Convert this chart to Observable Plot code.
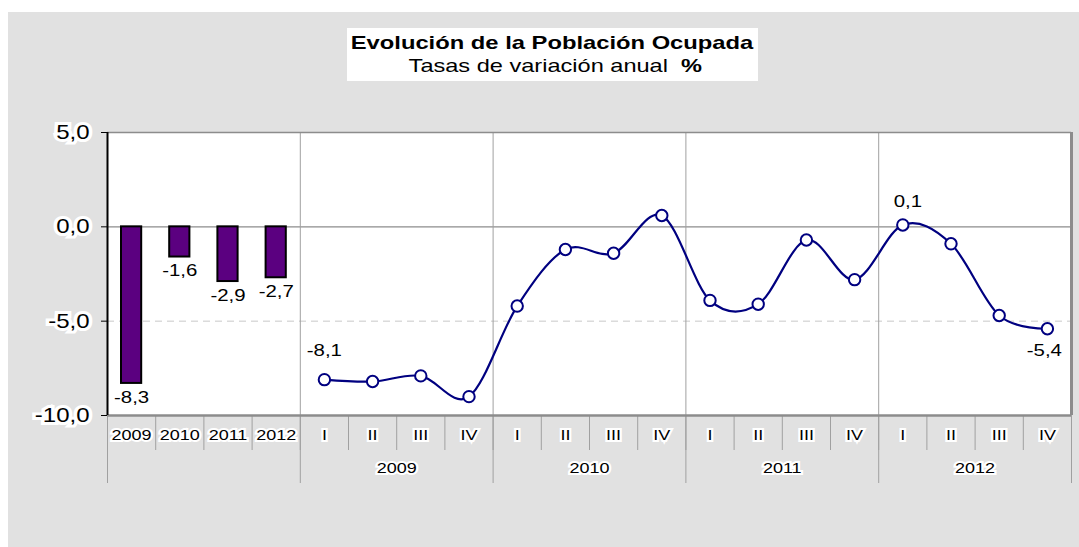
<!DOCTYPE html>
<html>
<head>
<meta charset="utf-8">
<script src="https://cdn.jsdelivr.net/npm/d3@7"></script>
<script src="https://cdn.jsdelivr.net/npm/@observablehq/plot@0.6"></script>
<style>
  html, body { margin: 0; padding: 0; background: #ffffff; overflow: hidden; }
  body { width: 1079px; height: 547px; position: relative; font-family: "Liberation Sans", Arial, sans-serif; }
  #bg { position: absolute; left: 8px; top: 12px; width: 1071px; height: 535px; background: #e1e1e1; }
  #titlebox { position: absolute; left: 347px; top: 28px; width: 411px; height: 53px; background: #ffffff; }
  #t1, #t2 { position: absolute; left: 0; width: 100%; text-align: center; white-space: nowrap; color: #000; }
  #t1 { top: 3px; height: 23px; line-height: 23px; font-size: 19px; font-weight: bold; }
  #t2 { top: 26px; height: 23px; line-height: 23px; font-size: 19px; }
  #t1 span { display: inline-block; transform: scaleX(1.25); }
  #t2 span { display: inline-block; transform: scaleX(1.24); margin-left: 5px; }
  #chart { position: absolute; left: 8px; top: 112px; }
</style>
</head>
<body>
<div id="bg"></div>
<div id="titlebox">
  <div id="t1"><span>Evolución de la Población Ocupada</span></div>
  <div id="t2"><span>Tasas de variación anual&nbsp; <b>%</b></span></div>
</div>
<div id="chart"></div>
<script>
// ---- data ----
const annualYears = ["2009", "2010", "2011", "2012"];
const annualValues = [-8.3, -1.6, -2.9, -2.7];
const quarterYears = ["2009", "2010", "2011", "2012"];
const quarterNames = ["I", "II", "III", "IV"];
const quarterlyValues = [-8.1, -8.2, -7.9, -9.0, -4.2, -1.2, -1.4, 0.6, -3.9, -4.1, -0.7, -2.8, 0.1, -0.9, -4.7, -5.4];
const yTicks = [5, 0, -5, -10];
const labeledQuarters = ["2009 I", "2012 I", "2012 IV"];

// ---- derived tables ----
const annual = annualYears.map((y, i) => ({key: "A" + y, label: y, value: annualValues[i]}));
const quarterly = quarterYears.flatMap((y, yi) =>
  quarterNames.map((q, qi) => ({key: y + " " + q, year: y, label: q, value: quarterlyValues[yi * 4 + qi]})));
const all = [...annual, ...quarterly];
const keys = all.map(d => d.key);
const fmt = v => v.toFixed(1).replace(".", ",");

const half = 964 / keys.length / 2; // half a band, in px
const groupStarts = [annual[0].key, ...quarterYears.map(y => y + " I")];
const innerGroupStarts = quarterYears.map(y => y + " I");
const lastKey = keys[keys.length - 1];
const halo = {stroke: "white", strokeWidth: 6, paintOrder: "stroke", strokeLinejoin: "miter"};
const labelOffsets = {"2009 I": [0, -29], "2012 I": [5, -23], "2012 IV": [-3, 22]};

const chart = Plot.plot({
  width: 1071,
  height: 400,
  marginLeft: 99,
  marginRight: 8,
  marginTop: 20,
  marginBottom: 97,
  style: {background: "transparent", fontFamily: "'Liberation Sans', Arial, sans-serif", color: "black"},
  x: {domain: keys, padding: 0, round: false, axis: null},
  y: {domain: [-10, 5], axis: null},
  marks: [
    Plot.frame({fill: "white", stroke: "none"}),
    // horizontal grid
    Plot.ruleY([-5], {stroke: "#c8c8c8", strokeWidth: 1, strokeDasharray: "7,5"}),
    Plot.ruleY([0], {stroke: "#8c8c8c", strokeWidth: 1.2}),
    // vertical group separators in plot
    Plot.ruleX(innerGroupStarts, {x: d => d, dx: -half, stroke: "#a0a0a0", strokeWidth: 1}),
    // separators below axis
    Plot.ruleX(keys, {x: d => d, dx: -half, insetTop: 283, insetBottom: -35, stroke: "#a0a0a0", strokeWidth: 1}),
    Plot.ruleX(groupStarts, {x: d => d, dx: -half, insetTop: 283, insetBottom: -68, stroke: "#a0a0a0", strokeWidth: 1}),
    Plot.ruleX([lastKey], {x: d => d, dx: half, insetTop: 283, insetBottom: -68, stroke: "#a0a0a0", strokeWidth: 1}),
    // bars
    Plot.barY(annual, {x: "key", y: "value", fill: "#5b0080", stroke: "black", strokeWidth: 2, insetLeft: 14, insetRight: 14}),
    // line + points
    Plot.line(quarterly, {x: "key", y: "value", curve: "cardinal", stroke: "#000080", strokeWidth: 2.2}),
    Plot.dot(quarterly, {x: "key", y: "value", r: 5.7, fill: "white", stroke: "#000080", strokeWidth: 2}),
    // data labels
    Plot.text(annual, {x: "key", y: "value", text: d => fmt(d.value), dy: 14, fontSize: 17, fill: "black"}),
    ...labeledQuarters.map(k => Plot.text(quarterly.filter(d => d.key === k), {
      x: "key", y: "value", text: d => fmt(d.value), dx: labelOffsets[k][0], dy: labelOffsets[k][1], fontSize: 17, fill: "black"
    })),
    // frame borders
    Plot.ruleY([5], {stroke: "#8c8c8c", strokeWidth: 1.5}),
    Plot.ruleY([-10], {stroke: "#8c8c8c", strokeWidth: 2.5}),
    Plot.ruleX([lastKey], {x: d => d, dx: half, stroke: "#8c8c8c", strokeWidth: 3}),
    Plot.ruleX([annual[0].key], {x: d => d, dx: -half, stroke: "black", strokeWidth: 2}),
    // y ticks & labels
    Plot.ruleY(yTicks, {y: d => d, insetLeft: -6, insetRight: 964, stroke: "black", strokeWidth: 1}),
    Plot.text(yTicks, {y: d => d, text: d => fmt(d), frameAnchor: "left", dx: -18, textAnchor: "end", fontSize: 20, fill: "black", ...halo}),
    // x labels
    Plot.text(all, {x: "key", text: "label", frameAnchor: "bottom", dy: 24, fontSize: 15, fill: "black", ...halo, strokeWidth: 4}),
    Plot.text(quarterYears, {x: y => y + " II", text: d => d, frameAnchor: "bottom", dx: half, dy: 57, fontSize: 15, fill: "black", ...halo, strokeWidth: 4})
  ]
});

document.getElementById("chart").appendChild(chart);

// Stretch text horizontally to match the reference's wide lettering
const S = 1.2;
chart.querySelectorAll("text").forEach(t => {
  const b = t.getBBox();
  const anchor = getComputedStyle(t).textAnchor;
  const ax = anchor === "end" ? b.x + b.width : anchor === "start" ? b.x : b.x + b.width / 2;
  const existing = t.getAttribute("transform") || "";
  t.setAttribute("transform", `${existing} translate(${ax},0) scale(${S},1) translate(${-ax},0)`.trim());
});
</script>
</body>
</html>
